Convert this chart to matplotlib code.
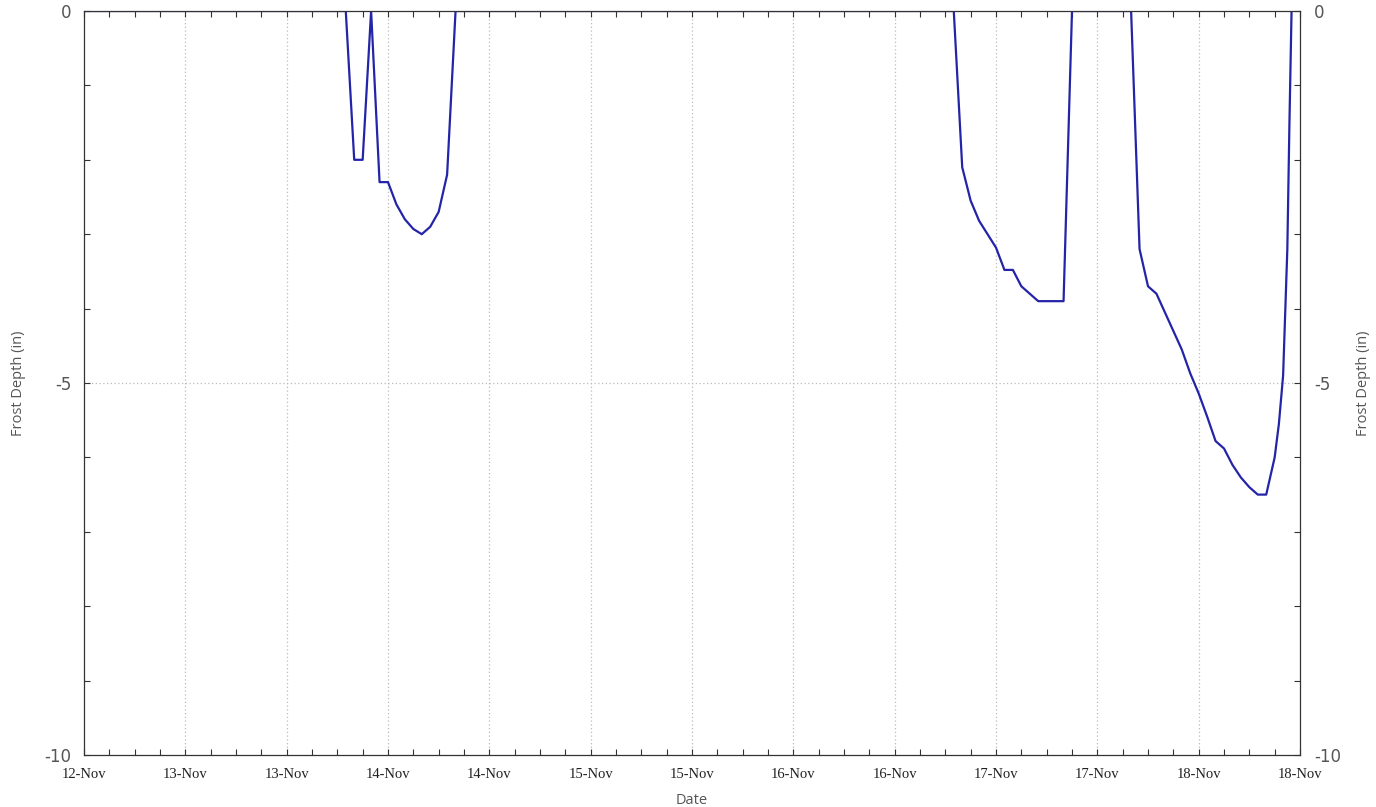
import matplotlib
matplotlib.use("Agg")
import matplotlib.pyplot as plt
from matplotlib.ticker import MultipleLocator

# Hours since 12-Nov 12:00
hours = [0, 31, 32, 33, 34, 35, 36, 37, 38, 39, 40, 41, 42, 43, 44,
         103, 104, 105, 106, 107, 108, 109, 110, 111, 112, 113, 114, 115, 116, 117,
         124, 125, 126, 127, 128, 129, 130, 131, 132, 133, 134, 135, 136, 137, 138,
         139, 140, 141, 141.5, 142, 142.5, 142.75, 143]
depth = [0, 0, -2.0, -2.0, 0, -2.3, -2.3, -2.6, -2.8, -2.93, -3.0, -2.9, -2.7, -2.2, 0,
         0, -2.1, -2.55, -2.82, -3.0, -3.18, -3.48, -3.48, -3.7, -3.8, -3.9, -3.9, -3.9, -3.9, 0,
         0, -3.2, -3.7, -3.8, -4.05, -4.3, -4.55, -4.87, -5.14, -5.45, -5.78, -5.88, -6.1, -6.27, -6.4,
         -6.5, -6.5, -6.0, -5.55, -4.9, -3.2, -1.5, 0]

xtick_pos = [0, 12, 24, 36, 48, 60, 72, 84, 96, 108, 120, 132, 144]
xtick_labels = ["12-Nov", "13-Nov", "13-Nov", "14-Nov", "14-Nov", "15-Nov", "15-Nov",
                "16-Nov", "16-Nov", "17-Nov", "17-Nov", "18-Nov", "18-Nov"]
ytick_pos = [0, -5, -10]

fig = plt.figure(figsize=(13.76, 8.07), dpi=100)
ax = fig.add_axes([84/1376, 1 - 755/807, (1300-84)/1376, (755-11)/807])

ax.plot(hours, depth, color="#2424a8", lw=1.6)

ax.set_xlim(0, 144)
ax.set_ylim(-10, 0)
ax.set_xticks(xtick_pos)
ax.set_xticklabels(xtick_labels, fontfamily="Liberation Serif", fontsize=10.5, color="#222222")
ax.xaxis.set_minor_locator(MultipleLocator(3))
ax.set_yticks(ytick_pos)
ax.set_yticklabels([str(v) for v in ytick_pos], fontfamily="DejaVu Sans", fontsize=12, color="#555555")
ax.yaxis.set_minor_locator(MultipleLocator(1))

ax.tick_params(axis="both", which="both", direction="in", top=True, right=True,
               length=4, width=0.8, color="#333333")
ax.tick_params(axis="x", pad=9)
ax.tick_params(axis="y", pad=9)

for x in xtick_pos[1:-1]:
    ax.axvline(x, color="#bbbbbb", lw=0.9, ls=(0, (1, 2)), zorder=0)
ax.axhline(-5, color="#bbbbbb", lw=0.9, ls=(0, (1, 2)), zorder=0)

for s in ax.spines.values():
    s.set_color("#333333")
    s.set_linewidth(0.9)

ax.set_xlabel("Date", fontfamily="Open Sans", fontsize=10.5, color="#555555", labelpad=9)
ax.set_ylabel("Frost Depth (in)", fontfamily="Open Sans", fontsize=10.5, color="#555555", labelpad=13)

ax2 = ax.twinx()
ax2.set_ylim(-10, 0)
ax2.set_yticks(ytick_pos)
ax2.set_yticklabels([str(v) for v in ytick_pos], fontfamily="DejaVu Sans", fontsize=12, color="#555555")
ax2.yaxis.set_minor_locator(MultipleLocator(1))
ax2.tick_params(axis="y", which="both", direction="in", length=4, width=0.8, color="#333333", pad=10)
ax2.set_ylabel("Frost Depth (in)", fontfamily="Open Sans", fontsize=10.5, color="#555555", labelpad=11)
for s in ax2.spines.values():
    s.set_visible(False)

fig.savefig("out.png", dpi=100)
